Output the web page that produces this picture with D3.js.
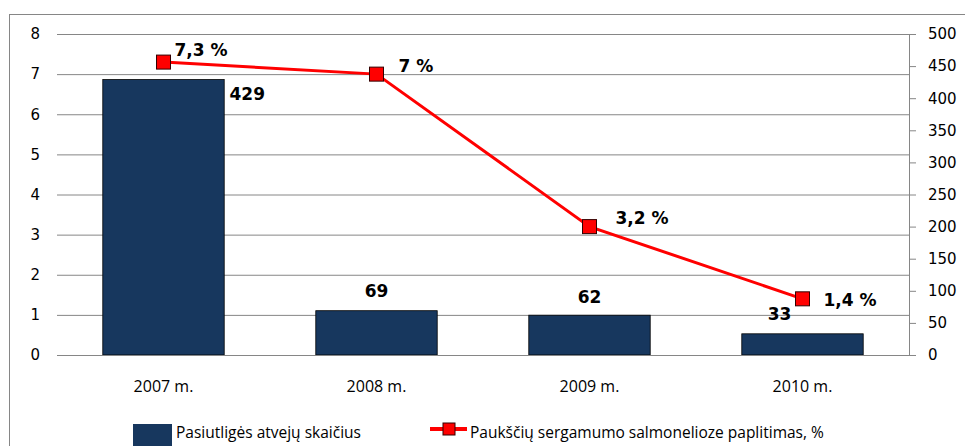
<!DOCTYPE html>
<html>
<head>
<meta charset="utf-8">
<script src="https://cdn.jsdelivr.net/npm/d3@7"></script>
<style>
  body { margin: 0; background: #fff; }
  svg { display: block; }
  .tick text { font-family: "DejaVu Sans", Verdana, sans-serif; font-size: 15px; fill: #000; }
  .cat { font-family: "Open Sans", "Noto Sans", sans-serif; font-size: 16px; }
  .lbl { font-family: "DejaVu Sans", Verdana, sans-serif; font-size: 17px; font-weight: bold; }
  .leg { font-family: "Open Sans", "Noto Sans", sans-serif; font-size: 15.5px; }
</style>
</head>
<body>
<svg id="chart" width="965" height="446"></svg>
<script>
(function (d3) {
    'use strict';

    var years = ['2007 m.', '2008 m.', '2009 m.', '2010 m.'],
        cases = [429, 69, 62, 33],
        prevalence = [7.3, 7, 3.2, 1.4],
        prevalenceLabels = ['7,3 %', '7 %', '3,2 %', '1,4 %'],
        leftTicks = [0, 1, 2, 3, 4, 5, 6, 7, 8],
        rightTicks = [0, 50, 100, 150, 200, 250, 300, 350, 400, 450, 500],
        legendNames = ['Pasiutligės atvejų skaičius', 'Paukščių sergamumo salmonelioze paplitimas, %'];

    var BAR_COLOR = '#17375e',
        LINE_COLOR = '#ff0000',
        GRID_COLOR = '#868686',
        left = 57,
        right = 909,
        top = 34,
        bottom = 355,
        svg = d3.select('#chart');

    // label offsets (dx, dy) relative to the point / bar top
    var pctOffsets = [[11, -6], [22, -2], [26, -3], [21, 7]],
        caseOffsets = [[66, 20], [0, -14], [0, -12], [-23, -14]];

    var x = d3.scaleBand().domain(years).range([left, right]).paddingInner(0.43).paddingOuter(0.215),
        xc = d3.scalePoint().domain(years).range([left, right]).padding(0.5),
        yLeft = d3.scaleLinear().domain([0, 8]).range([bottom, top]),
        yRight = d3.scaleLinear().domain([0, 500]).range([bottom, top]);

    // outer frame
    svg.append('rect')
        .attr('x', 9.5).attr('y', 14.5)
        .attr('width', 1000).attr('height', 1000)
        .attr('fill', 'none').attr('stroke', GRID_COLOR);

    // gridlines + left axis labels
    var gl = svg.append('g')
        .attr('transform', 'translate(' + left + ',0)')
        .call(d3.axisLeft(yLeft).tickValues(leftTicks).tickSize(-(right - left)).tickPadding(17));
    gl.select('.domain').remove();
    gl.selectAll('.tick line').attr('stroke', GRID_COLOR);

    // right axis
    var gr = svg.append('g')
        .attr('transform', 'translate(' + right + ',0)')
        .call(d3.axisRight(yRight).tickValues(rightTicks).tickSize(7).tickSizeOuter(0).tickPadding(12));
    gr.select('.domain').attr('stroke', GRID_COLOR);
    gr.selectAll('.tick line').attr('stroke', GRID_COLOR);

    // bars
    svg.append('g').selectAll('rect')
        .data(cases)
        .join('rect')
        .attr('x', function (d, i) { return x(years[i]); })
        .attr('y', function (d) { return yRight(d); })
        .attr('width', x.bandwidth())
        .attr('height', function (d) { return bottom - yRight(d); })
        .attr('fill', BAR_COLOR)
        .attr('stroke', '#000')
        .attr('stroke-width', 0.8);

    // axis baseline
    svg.append('line')
        .attr('x1', left).attr('x2', right)
        .attr('y1', bottom + 0.5).attr('y2', bottom + 0.5)
        .attr('stroke', GRID_COLOR);

    // category labels
    svg.append('g').selectAll('text')
        .data(years)
        .join('text')
        .attr('class', 'cat')
        .attr('x', function (d) { return xc(d); })
        .attr('y', 392)
        .attr('text-anchor', 'middle')
        .text(function (d) { return d; });

    // bar labels
    svg.append('g').selectAll('text')
        .data(cases)
        .join('text')
        .attr('class', 'lbl')
        .attr('x', function (d, i) { return xc(years[i]) + caseOffsets[i][0]; })
        .attr('y', function (d, i) { return yRight(d) + caseOffsets[i][1]; })
        .attr('text-anchor', function (d, i) { return i === 0 ? 'start' : 'middle'; })
        .text(function (d) { return d; });

    // line
    var line = d3.line()
        .x(function (d, i) { return xc(years[i]); })
        .y(function (d) { return yLeft(d); });
    svg.append('path')
        .datum(prevalence)
        .attr('d', line)
        .attr('fill', 'none')
        .attr('stroke', LINE_COLOR)
        .attr('stroke-width', 3);

    svg.append('g').selectAll('rect')
        .data(prevalence)
        .join('rect')
        .attr('x', function (d, i) { return xc(years[i]) - 7; })
        .attr('y', function (d) { return yLeft(d) - 7; })
        .attr('width', 14).attr('height', 14)
        .attr('fill', LINE_COLOR)
        .attr('stroke', '#300')
        .attr('stroke-width', 1);

    svg.append('g').selectAll('text')
        .data(prevalence)
        .join('text')
        .attr('class', 'lbl')
        .attr('x', function (d, i) { return xc(years[i]) + pctOffsets[i][0]; })
        .attr('y', function (d, i) { return yLeft(d) + pctOffsets[i][1]; })
        .text(function (d, i) { return prevalenceLabels[i]; });

    // legend
    var lg = svg.append('g');
    lg.append('rect')
        .attr('x', 133).attr('y', 424)
        .attr('width', 39).attr('height', 30)
        .attr('fill', BAR_COLOR);
    lg.append('text').attr('class', 'leg').attr('x', 176).attr('y', 438).text(legendNames[0]);
    lg.append('line')
        .attr('x1', 430).attr('x2', 467)
        .attr('y1', 429).attr('y2', 429)
        .attr('stroke', LINE_COLOR).attr('stroke-width', 4);
    lg.append('rect')
        .attr('x', 443).attr('y', 423)
        .attr('width', 12).attr('height', 12)
        .attr('fill', LINE_COLOR).attr('stroke', '#300');
    lg.append('text').attr('class', 'leg').attr('x', 470).attr('y', 438).text(legendNames[1]);
}(window.d3));
</script>
</body>
</html>
